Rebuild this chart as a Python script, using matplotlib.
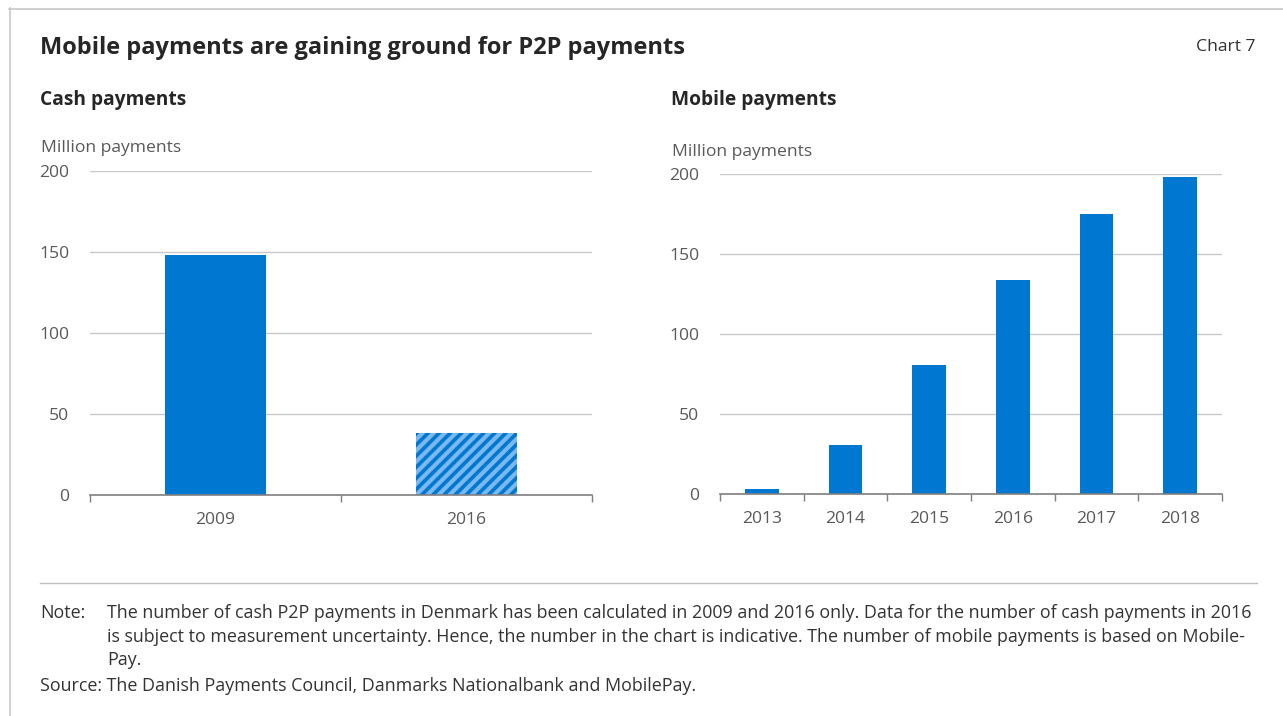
import matplotlib.pyplot as plt
import numpy as np
from matplotlib.lines import Line2D

plt.rcParams['font.family'] = ['Open Sans', 'DejaVu Sans']
plt.rcParams['hatch.linewidth'] = 3.0

# data, million payments
cash_years = ['2009', '2016']
cash_values = [148, 38.5]
mobile_years = ['2013', '2014', '2015', '2016', '2017', '2018']
mobile_values = [3, 30.5, 80.5, 134, 175, 198]
y_ticks = [0, 50, 100, 150, 200]

blue = '#0078d2'
light_blue = '#7ab8ee'
grid_grey = '#c8c8c8'
axis_grey = '#7f7f7f'
text_grey = '#595959'
fs = 12.6
note_fs = 12.85

W, H = 1283, 716
fig = plt.figure(figsize=(W / 100, H / 100), dpi=100)


def fx(px):
    return px / W


def fy(py):
    return 1 - py / H


def setup(ax, labels):
    n = len(labels)
    ax.set_xlim(-0.5, n - 0.5)
    ax.set_ylim(0, 200)
    ax.set_yticks(y_ticks)
    ax.set_yticklabels([str(t) for t in y_ticks])
    ax.yaxis.grid(True, color=grid_grey, linewidth=1)
    ax.set_axisbelow(True)
    for s in ['top', 'right', 'left']:
        ax.spines[s].set_visible(False)
    ax.spines['bottom'].set_color(axis_grey)
    ax.spines['bottom'].set_linewidth(1.2)
    ax.tick_params(axis='y', length=0, pad=15, labelsize=fs, labelcolor=text_grey)
    # category labels without ticks, tick marks on the boundaries
    ax.set_xticks(np.arange(n))
    ax.set_xticklabels(labels)
    ax.tick_params(axis='x', which='major', length=0, pad=12, labelsize=fs, labelcolor=text_grey)
    ax.set_xticks(np.arange(-0.5, n), minor=True)
    ax.tick_params(axis='x', which='minor', length=5, direction='out', color=axis_grey, width=1)


# left panel: cash
ax1 = fig.add_axes([fx(90), fy(495), fx(502), fy(171) - fy(495)])
setup(ax1, cash_years)
x1 = np.arange(len(cash_years))
ax1.bar(x1[0], cash_values[0], width=0.4, color=blue, zorder=2)
ax1.bar(x1[1], cash_values[1], width=0.4, color=blue, edgecolor=light_blue,
        hatch='///', linewidth=0, zorder=2)

# right panel: mobile
ax2 = fig.add_axes([fx(720), fy(494), fx(502), fy(174) - fy(494)])
setup(ax2, mobile_years)
ax2.bar(np.arange(len(mobile_years)), mobile_values, width=0.4, color=blue, zorder=2)

# titles and labels
fig.text(fx(40), fy(48), 'Mobile payments are gaining ground for P2P payments',
         fontsize=17, fontweight='bold', color='#262626', va='center')
fig.text(fx(1256), fy(47), 'Chart 7', fontsize=fs, color='#333333', va='center', ha='right')
fig.text(fx(40), fy(100), 'Cash payments', fontsize=13.8, fontweight='bold', color='#262626', va='center')
fig.text(fx(671), fy(100), 'Mobile payments', fontsize=13.8, fontweight='bold', color='#262626', va='center')
fig.text(fx(41), fy(148), 'Million payments', fontsize=fs, color=text_grey, va='center')
fig.text(fx(672), fy(152), 'Million payments', fontsize=fs, color=text_grey, va='center')

# separator and frame
fig.add_artist(Line2D([fx(40), fx(1257)], [fy(583), fy(583)], color='#c0c0c0', linewidth=1))
fig.add_artist(Line2D([fx(9), fx(1283)], [fy(8.5), fy(8.5)], color='#c8c8c8', linewidth=1.2))
fig.add_artist(Line2D([fx(9.5), fx(9.5)], [fy(8), fy(716)], color='#c8c8c8', linewidth=1.2))

note_lines = [
    'The number of cash P2P payments in Denmark has been calculated in 2009 and 2016 only. Data for the number of cash payments in 2016',
    'is subject to measurement uncertainty. Hence, the number in the chart is indicative. The number of mobile payments is based on Mobile-',
    'Pay.',
]
fig.text(fx(40), fy(613), 'Note:', fontsize=note_fs, color='#333333', va='center')
for i, line in enumerate(note_lines):
    fig.text(fx(107), fy(613 + 23.5 * i), line, fontsize=note_fs, color='#333333', va='center')
fig.text(fx(40), fy(686), 'Source: The Danish Payments Council, Danmarks Nationalbank and MobilePay.',
         fontsize=note_fs, color='#333333', va='center')

fig.savefig('out.png', dpi=100)
